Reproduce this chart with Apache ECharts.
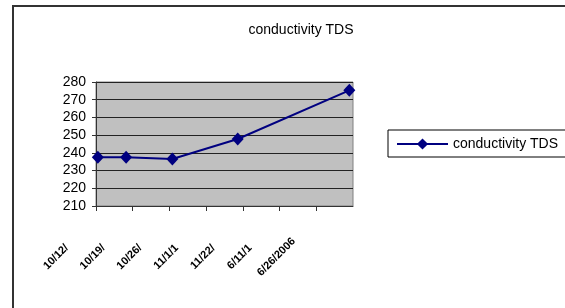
<!DOCTYPE html>
<html>
<head>
<meta charset="utf-8">
<script src="https://cdn.jsdelivr.net/npm/echarts@6/dist/echarts.min.js"></script>
<style>
  html, body { margin: 0; padding: 0; background: #fff; }
  #chart { width: 565px; height: 308px; }
</style>
</head>
<body>
<div id="chart"></div>
<script>
// tick labels along the date axis (mostly illegible in the source)
var dateLabels = ['10/12/', '10/19/', '10/26/', '11/1/1', '11/22/', '6/11/1', '6/26/2006'];
// sample positions in tick units and conductivity readings
var samplePos = [0.05, 0.82, 2.08, 3.86, 6.9];
var tdsValues = [237.5, 237.5, 236.5, 247.8, 275.3];
var yTicks = [210, 220, 230, 240, 250, 260, 270, 280];

var chartDom = document.getElementById('chart');
var myChart = echarts.init(chartDom);
var option;

var points = samplePos.map(function (p, i) { return [p, tdsValues[i]]; });

option = {
  animation: false,
  textStyle: { fontFamily: 'Liberation Sans, Arial, sans-serif' },
  title: {
    text: 'conductivity TDS',
    left: 296,
    top: 18,
    textAlign: 'center',
    textStyle: { fontSize: 14, fontWeight: 'normal', color: '#000' }
  },
  graphic: [{
    type: 'rect',
    shape: { x: 13, y: 6, width: 600, height: 400 },
    style: { fill: 'none', stroke: '#333', lineWidth: 2 },
    silent: true
  }],
  legend: {
    left: 388,
    top: 130,
    orient: 'vertical',
    padding: [7, 14, 6, 8],
    borderColor: '#000',
    borderWidth: 1,
    itemWidth: 51,
    itemHeight: 14,
    itemGap: 0,
    textStyle: { fontSize: 14, color: '#000' },
    data: ['conductivity TDS']
  },
  grid: {
    left: 96,
    right: 212,
    top: 82,
    bottom: 102,
    show: true,
    backgroundColor: '#c0c0c0',
    borderColor: '#808080',
    borderWidth: 1
  },
  xAxis: {
    type: 'value',
    min: 0,
    max: 7,
    interval: 1,
    axisLine: { show: true, onZero: false, lineStyle: { color: '#333', width: 1 } },
    axisTick: { show: true, length: 5, lineStyle: { color: '#333' } },
    splitLine: { show: false },
    axisLabel: {
      rotate: 45,
      align: 'center',
      verticalAlign: 'middle',
      margin: 11,
      padding: [0, 113, 0, 0],
      fontSize: 11,
      fontWeight: 'bold',
      color: '#000',
      showMaxLabel: false,
      formatter: function (v) {
        var i = Math.round(v);
        return i < dateLabels.length ? dateLabels[i] : '';
      }
    }
  },
  yAxis: {
    type: 'value',
    min: yTicks[0],
    max: yTicks[yTicks.length - 1],
    interval: 10,
    axisLine: { show: true, lineStyle: { color: '#333', width: 1 } },
    axisTick: { show: true, length: 4, lineStyle: { color: '#333' } },
    splitLine: { show: true, lineStyle: { color: '#222', width: 1 } },
    axisLabel: { fontSize: 14, color: '#000', margin: 10 }
  },
  series: [{
    name: 'conductivity TDS',
    type: 'line',
    data: points,
    symbol: 'diamond',
    symbolSize: [12, 13],
    itemStyle: { color: '#000080' },
    lineStyle: { color: '#000080', width: 2 }
  }]
};

option && myChart.setOption(option);
</script>
</body>
</html>
